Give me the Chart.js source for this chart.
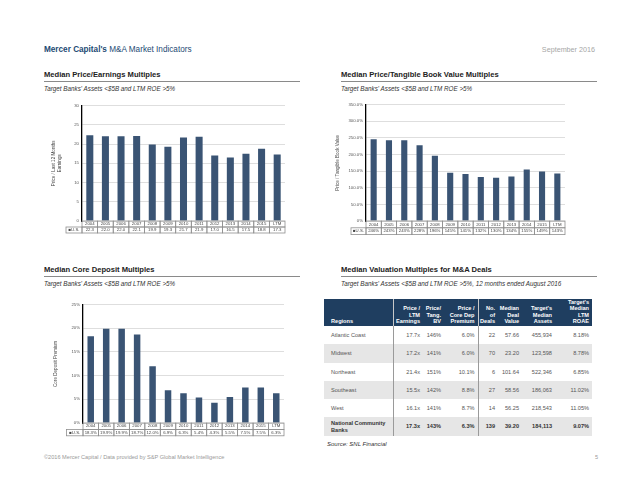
<!DOCTYPE html>
<html>
<head>
<meta charset="utf-8">
<script src="https://cdn.jsdelivr.net/npm/chart.js@4.4.0/dist/chart.umd.min.js"></script>
<style>
  body { margin:0; width:638px; height:493px; background:#fff; font-family:"Liberation Sans", Arial, sans-serif; position:relative; overflow:hidden; }
  .abs { position:absolute; }
  .hdr { left:44px; top:45px; font-size:8.2px; color:#1d4a73; }
  .date { right:43px; top:45px; font-size:7.2px; color:#a6a6a6; }
  .sec { font-size:7.6px; font-weight:bold; color:#222; border-bottom:1px solid #8a8a8a; padding-bottom:2px; width:256px; }
  .sub { font-size:6.3px; font-style:italic; color:#333; }
  .box { position:absolute; }
  table { border-collapse:collapse; font-size:5.6px; color:#555; table-layout:fixed; }
  th { background:#1f3e60; color:#fff; font-weight:bold; text-align:right; vertical-align:bottom; padding:0 3px 2px 0; line-height:6.2px; height:25px; }
  th.reg { text-align:left; padding-left:7px; }
  td { text-align:right; padding:0 3px 0 0; height:18.3px; line-height:6.4px; }
  td.reg { text-align:left; padding-left:7px; }
  tr.g td { background:#e6e6e6; }
  tr.nat td { font-weight:bold; color:#333; }
  .sep { border-right:1px solid #9a9a9a; }
  th.sep { border-right:1px solid #c8c8c8; }
  .foot { left:44px; top:454px; font-size:5.6px; color:#999; }
  .pg { left:595px; top:454px; font-size:5.6px; color:#999; }
  .src { left:327px; top:441px; font-size:6px; font-style:italic; color:#333; }
</style>
</head>
<body>
<div class="abs hdr"><b>Mercer Capital's</b> M&amp;A Market Indicators</div>
<div class="abs date">September 2016</div>

<div class="abs sec" style="left:44px;top:70px;">Median Price/Earnings Multiples</div>
<div class="abs sub" style="left:44px;top:85px;">Target Banks' Assets &lt;$5B and LTM ROE &gt;5%</div>
<div class="abs sec" style="left:341px;top:70px;">Median Price/Tangible Book Value Multiples</div>
<div class="abs sub" style="left:341px;top:85px;">Target Banks' Assets &lt;$5B and LTM ROE &gt;5%</div>
<div class="abs sec" style="left:44px;top:265px;">Median Core Deposit Multiples</div>
<div class="abs sub" style="left:44px;top:280px;">Target Banks' Assets &lt;$5B and LTM ROE &gt;5%</div>
<div class="abs sec" style="left:341px;top:265px;">Median Valuation Multiples for M&amp;A Deals</div>
<div class="abs sub" style="left:341px;top:280px;">Target Banks' Assets &lt;$5B and LTM ROE &gt;5%, 12 months ended August 2016</div>

<div class="box" style="left:30px;top:100px;width:260px;height:136px;"><canvas id="pe"></canvas></div>
<div class="box" style="left:320px;top:99px;width:250px;height:137px;"><canvas id="ptbv"></canvas></div>
<div class="box" style="left:30px;top:299px;width:260px;height:138px;"><canvas id="cdp"></canvas></div>

<div class="abs" style="left:324px;top:299px;">
  <table id="deals">
    <colgroup>
      <col style="width:69px"><col style="width:30px"><col style="width:21px"><col style="width:34px">
      <col style="width:20px"><col style="width:24px"><col style="width:33px"><col style="width:37px">
    </colgroup>
    <thead><tr id="dealHead"></tr></thead>
    <tbody id="dealBody"></tbody>
  </table>
</div>
<div class="abs src">Source: SNL Financial</div>
<div class="abs foot">©2016 Mercer Capital / Data provided by S&amp;P Global Market Intelligence</div>
<div class="abs pg">5</div>

<script>
// chart data
var years = ["2004","2005","2006","2007","2008","2009","2010","2011","2012","2013","2014","2015","LTM"];
var peValues = [22.3, 22.0, 22.0, 22.1, 19.9, 19.3, 21.7, 21.9, 17.0, 16.5, 17.5, 18.8, 17.3];
var ptbvValues = [246, 243, 243, 228, 196, 145, 141, 132, 130, 134, 155, 149, 143];
var cdpValues = [18.3, 19.9, 19.9, 18.7, 12.0, 6.9, 6.3, 5.4, 4.3, 5.5, 7.5, 7.5, 6.3];

// deals table data
var dealHeaders = ["Regions", "Price /<br>LTM<br>Earnings", "Price/<br>Tang.<br>BV", "Price /<br>Core Dep<br>Premium",
  "No.<br>of<br>Deals", "Median<br>Deal<br>Value", "Target's<br>Median<br>Assets", "Target's<br>Median<br>LTM<br>ROAE"];
var regions = ["Atlantic Coast", "Midwest", "Northeast", "Southeast", "West", "National Community<br>Banks"];
var dealPE = ["17.7x", "17.2x", "21.4x", "15.5x", "16.1x", "17.3x"];
var dealPTBV = ["146%", "141%", "151%", "142%", "141%", "143%"];
var dealCDP = ["6.0%", "6.0%", "10.1%", "8.8%", "8.7%", "6.3%"];
var dealCount = ["22", "70", "6", "27", "14", "139"];
var dealValue = ["57.66", "23.20", "101.64", "58.56", "56.25", "39.20"];
var dealAssets = ["455,934", "123,598", "522,346", "186,063", "218,543", "184,113"];
var dealROAE = ["8.18%", "8.78%", "6.85%", "11.02%", "11.05%", "9.07%"];

var barColor = "#3a5474";
var fontFam = "'Liberation Sans', Arial, sans-serif";

// build the html table
var head = document.getElementById("dealHead");
dealHeaders.forEach(function(h, i){
  var th = document.createElement("th");
  th.innerHTML = h;
  if (i == 0) th.className = "reg sep";
  if (i == 3) th.className = "sep";
  head.appendChild(th);
});
var body = document.getElementById("dealBody");
regions.forEach(function(r, i){
  var tr = document.createElement("tr");
  var cls = [];
  if (i % 2 == 1) cls.push("g");
  if (i == regions.length - 1) cls.push("nat");
  tr.className = cls.join(" ");
  var cells = [r, dealPE[i], dealPTBV[i], dealCDP[i], dealCount[i], dealValue[i], dealAssets[i], dealROAE[i]];
  cells.forEach(function(c, j){
    var td = document.createElement("td");
    td.innerHTML = c;
    if (j == 0) td.className = "reg sep";
    if (j == 3) td.className = "sep";
    tr.appendChild(td);
  });
  body.appendChild(tr);
});

// draws the little data table under each chart
var dataTable = {
  id: "dataTable",
  afterDraw: function(chart, args, opts) {
    var ctx = chart.ctx, area = chart.chartArea, x = chart.scales.x;
    var n = chart.data.labels.length;
    var step = (area.right - area.left) / n;
    var top = area.bottom, rh = opts.rowH;
    ctx.save();
    ctx.strokeStyle = "#8f8f8f";
    ctx.lineWidth = 0.8;
    ctx.fillStyle = "#444";
    ctx.font = "4.3px " + fontFam;
    ctx.textAlign = "center";
    ctx.textBaseline = "middle";
    for (var i = 0; i < n; i++) {
      var cx = x.getPixelForValue(i);
      var l = cx - step / 2;
      ctx.strokeRect(l, top, step, rh);
      ctx.strokeRect(l, top + rh, step, rh);
      ctx.fillText(chart.data.labels[i], cx, top + rh / 2);
      ctx.fillText(opts.labels[i], cx, top + rh * 1.5);
    }
    var lx = opts.leftX;
    ctx.strokeRect(lx, top + rh, area.left - lx, rh);
    ctx.fillText("\u25A0U.S.", (lx + area.left) / 2, top + rh * 1.5);
    ctx.restore();
  }
};

function makeChart(id, values, labels, cfg) {
  return new Chart(document.getElementById(id), {
    type: "bar",
    data: {
      labels: years,
      datasets: [{ data: values, backgroundColor: barColor, barPercentage: cfg.barPct, categoryPercentage: 1 }]
    },
    options: {
      responsive: true,
      maintainAspectRatio: false,
      animation: false,
      layout: { padding: { top: cfg.padTop, right: cfg.padRight, bottom: 0, left: cfg.padLeft } },
      plugins: {
        legend: { display: false },
        tooltip: { enabled: false },
        dataTable: { rowH: cfg.rowH, labels: labels, leftX: cfg.leftX }
      },
      scales: {
        x: {
          ticks: { display: false },
          grid: { display: false },
          border: { display: false },
          afterFit: function(s) { s.height = cfg.xH; }
        },
        y: {
          min: 0, max: cfg.max,
          ticks: { stepSize: cfg.step, color: "#555", padding: 3, font: { size: 4.3, family: fontFam }, callback: cfg.tick },
          grid: { color: "#d6d6d6", lineWidth: 0.8, drawTicks: false },
          border: { display: true, color: "#000", width: 1.3 },
          title: { display: true, text: cfg.title, color: "#444", font: { size: 4.6, family: fontFam }, padding: 0 },
          afterFit: function(s) { s.width = cfg.yW; }
        }
      }
    },
    plugins: [dataTable]
  });
}

makeChart("pe", peValues, peValues.map(function(v){ return v.toFixed(1); }), {
  max: 30, step: 5, tick: function(v){ return v; }, title: ["Price / Last 12 Months", "Earnings"],
  barPct: 0.45, rowH: 6, xH: 15, yW: 31, padLeft: 21, padTop: 1, padRight: 5, leftX: 36
});
makeChart("ptbv", ptbvValues, ptbvValues.map(function(v){ return v + "%"; }), {
  max: 350, step: 50, tick: function(v){ return v == 0 ? "0%" : v.toFixed(1) + "%"; }, title: "Price / Tangible Book Value",
  barPct: 0.4, rowH: 6.8, xH: 15, yW: 31, padLeft: 15, padTop: 2, padRight: 5, leftX: 31
});
makeChart("cdp", cdpValues, cdpValues.map(function(v){ return v.toFixed(1) + "%"; }), {
  max: 25, step: 5, tick: function(v){ return v + "%"; }, title: "Core Deposit Premium",
  barPct: 0.42, rowH: 6.4, xH: 14, yW: 30, padLeft: 23, padTop: 3, padRight: 6, leftX: 36.5
});
</script>
</body>
</html>
